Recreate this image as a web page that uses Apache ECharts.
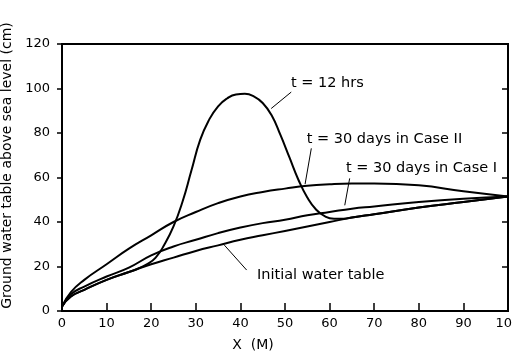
<!DOCTYPE html>
<html>
<head>
<meta charset="utf-8">
<script src="https://cdn.jsdelivr.net/npm/echarts@6/dist/echarts.min.js"></script>
<style>
  html, body { margin: 0; padding: 0; background: #fff; }
  #chart { width: 513px; height: 357px; }
</style>
</head>
<body>
<div id="chart"></div>
<script>
"use strict";

// x positions (m) shared by the three smooth curves
const xs = [0, 2, 5, 10, 15, 20, 25, 30, 35, 40, 45, 50, 55, 60, 65, 70, 80, 90, 100];
const initialTable = [2, 6.5, 9.5, 14, 17.5, 21, 24, 27, 29.5, 32, 34, 36, 38, 40, 42, 43.5, 46.5, 49, 51.5];
const caseI = [2, 7.5, 11, 15.5, 19.5, 25, 29, 32, 35, 37.5, 39.5, 41, 43, 44.5, 46, 47, 49, 50.5, 51.5];
const caseII = [2, 8.5, 14, 21, 28, 34, 40, 44.5, 48.5, 51.5, 53.5, 55, 56.3, 57, 57.3, 57.3, 56.5, 53.8, 51.5];

// t = 12 hrs mound
const x12 = [0, 2, 5, 10, 15, 17, 19, 21, 23, 25, 27, 29, 31, 33, 35, 37, 39, 41, 43, 45, 47, 49, 51, 53, 55, 57, 59, 61, 63, 65, 70, 80, 90, 100];
const y12 = [2, 6.5, 9.5, 14, 17.5, 19, 21, 24, 30, 38, 49, 63, 77, 86, 92, 95.5, 97.3, 97.6, 96.5, 93.5, 88, 79, 69, 59, 51, 45.5, 42.5, 41.5, 41.5, 42, 43.5, 46.5, 49, 51.5];

// annotation text: [label, x, y] and arrow: [x1, y1, x2, y2] (data units)
const notes = [
  ["t = 12 hrs", 59.5, 102.5],
  ["t = 30 days in Case II", 72.3, 77.3],
  ["t = 30 days in Case I", 80.6, 64.3],
  ["Initial water table", 58, 16.2],
];
const arrows = [
  [51.4, 98.4, 46.9, 91],
  [55.9, 73.1, 54.5, 57],
  [64.5, 59.6, 63.4, 47.5],
  [41.4, 18.4, 36.4, 29.6],
];

const FONT = "DejaVu Sans";
const pairs = (a, b) => a.map((v, i) => [v, b[i]]);

function curve(name, data) {
  return {
    name, type: "line", data, smooth: 0.5,
    showSymbol: false, silent: true,
    lineStyle: { color: "#000", width: 2 },
  };
}

const series = [
  curve("Initial water table", pairs(xs, initialTable)),
  curve("Case I", pairs(xs, caseI)),
  curve("Case II", pairs(xs, caseII)),
  curve("12 hrs", pairs(x12, y12)),
];

// arrows + labels hang off an empty helper series
series.push({
  type: "line", data: [], silent: true,
  markLine: {
    silent: true, animation: false,
    symbol: ["none", "arrow"], symbolSize: [0, 7],
    lineStyle: { color: "#000", width: 1, type: "solid" },
    label: { show: false },
    data: arrows.map(a => [{ coord: [a[0], a[1]] }, { coord: [a[2], a[3]] }]),
  },
  markPoint: {
    silent: true, animation: false, symbol: "circle", symbolSize: 0,
    label: {
      show: true, position: "inside", color: "#000",
      fontFamily: FONT, fontSize: 14.5,
    },
    data: notes.map(n => ({ coord: [n[1], n[2]], label: { formatter: n[0] } })),
  },
});

const chart = echarts.init(document.getElementById("chart"));
chart.setOption({
  animation: false,
  grid: {
    left: 62, right: 5, top: 44, bottom: 46, outerBoundsMode: "none", containLabel: false,
    show: true, borderColor: "#000", borderWidth: 2,
  },
  xAxis: {
    type: "value", min: 0, max: 100, interval: 10,
    name: "X  (M)", nameLocation: "middle", nameGap: 27,
    nameTextStyle: { color: "#000", fontFamily: FONT, fontSize: 14, padding: [0, 64, 0, 0] },
    axisLine: { lineStyle: { color: "#000", width: 2 } },
    axisTick: { inside: true, length: 8, lineStyle: { color: "#000", width: 1.5 } },
    axisLabel: { color: "#000", fontFamily: FONT, fontSize: 13, margin: 6 },
    splitLine: { show: false },
  },
  yAxis: [
    {
      type: "value", min: 0, max: 120, interval: 20,
      name: "Ground water table above sea level (cm)", nameLocation: "middle", nameGap: 44,
      nameTextStyle: { color: "#000", fontFamily: FONT, fontSize: 14, padding: [0, 0, 0, 24] },
      axisLine: { show: true, lineStyle: { color: "#000", width: 2 } },
      axisTick: { show: true, length: 5, lineStyle: { color: "#000", width: 1.5 } },
      axisLabel: { color: "#000", fontFamily: FONT, fontSize: 13, margin: 12 },
      splitLine: { show: false },
    },
    {
      type: "value", min: 0, max: 120, interval: 20, position: "right",
      axisLine: { show: true, lineStyle: { color: "#000", width: 2 } },
      axisTick: { show: true, inside: true, length: 6, lineStyle: { color: "#000", width: 1.5 } },
      axisLabel: { show: false },
      splitLine: { show: false },
    },
  ],
  series,
});
</script>
</body>
</html>
